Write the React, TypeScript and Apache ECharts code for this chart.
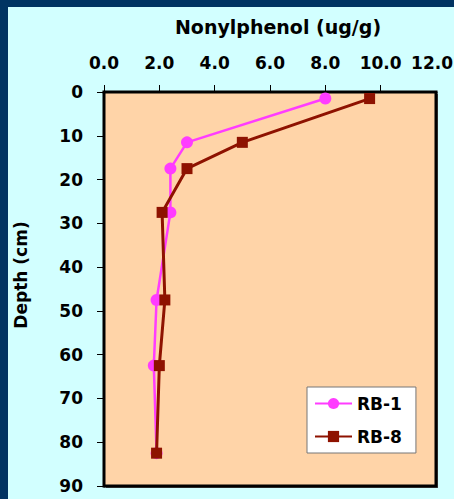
import React, { useEffect, useRef } from "react";
import * as echarts from "echarts";

const depths = [1.5, 11.5, 17.5, 27.5, 47.5, 62.5, 82.5];
const rb1 = [8.0, 3.0, 2.4, 2.4, 1.9, 1.8, 1.9];
const rb8 = [9.6, 5.0, 3.0, 2.1, 2.2, 2.0, 1.9];
const seriesNames = ["RB-1", "RB-8"];
const xTitle = "Nonylphenol (ug/g)";
const yTitle = "Depth (cm)";
const xMax = 12;

const FONT = "'DejaVu Sans', Arial, sans-serif";

export default function App() {
  const ref = useRef<HTMLDivElement>(null);
  useEffect(() => {
    if (!ref.current) return;
    const chart = echarts.init(ref.current, null, { renderer: "svg" });
    const toPairs = (xs: number[]) => xs.map((v, i) => [v, depths[i]]);
    chart.setOption({
      animation: false,
      backgroundColor: "#D2FFFF",
      textStyle: { fontFamily: FONT },
      grid: {
        left: 104,
        right: 18,
        top: 92,
        bottom: 13,
        containLabel: false,
        outerBoundsMode: "none",
        show: true,
        backgroundColor: "#FFD4A8",
        borderColor: "#000",
        borderWidth: 3,
        z: 1,
      },
      graphic: [
        { type: "rect", shape: { x: 0, y: 0, width: 454, height: 7 }, style: { fill: "#003462" }, z: 100 },
        { type: "rect", shape: { x: 0, y: 0, width: 8, height: 499 }, style: { fill: "#003462" }, z: 100 },
        { type: "rect", shape: { x: 106, y: 94, width: 332, height: 394 }, style: { fill: "#555" }, z: 0 },
        {
          type: "text",
          x: 278,
          y: 27,
          style: {
            text: xTitle,
            fontFamily: FONT,
            fontWeight: "bold",
            fontSize: 19,
            fill: "#000",
            align: "center",
            verticalAlign: "middle",
          },
        },
        {
          type: "text",
          x: 453,
          y: 71,
          style: {
            text: xMax.toFixed(1),
            fontFamily: FONT,
            fontWeight: "bold",
            fontSize: 17,
            fill: "#000",
            align: "right",
            verticalAlign: "bottom",
          },
        },
        {
          type: "text",
          x: 21,
          y: 275,
          rotation: Math.PI / 2,
          style: {
            text: yTitle,
            fontFamily: FONT,
            fontWeight: "bold",
            fontSize: 17,
            fill: "#000",
            align: "center",
            verticalAlign: "middle",
          },
        },
      ],
      xAxis: {
        type: "value",
        position: "top",
        min: 0,
        max: xMax,
        interval: 2,
        axisLine: { show: true, lineStyle: { color: "#000", width: 3 } },
        axisTick: { show: true, length: 7, lineStyle: { color: "#000", width: 1 } },
        splitLine: { show: false },
        axisLabel: {
          margin: 21,
          color: "#000",
          fontWeight: "bold",
          fontSize: 17,
          fontFamily: FONT,
          showMaxLabel: false,
          formatter: (v: number) => (v >= xMax ? "" : v.toFixed(1)),
        },
      },
      yAxis: {
        type: "value",
        inverse: true,
        min: 0,
        max: 90,
        interval: 10,
        axisLine: { show: true, lineStyle: { color: "#000", width: 3 } },
        axisTick: { show: true, length: 7, lineStyle: { color: "#000", width: 1 } },
        splitLine: { show: false },
        axisLabel: {
          margin: 21,
          color: "#000",
          fontWeight: "bold",
          fontSize: 17,
          fontFamily: FONT,
        },
      },
      legend: {
        orient: "vertical",
        left: 307,
        top: 387,
        backgroundColor: "#fff",
        borderColor: "#777",
        borderWidth: 1,
        borderRadius: 0,
        padding: [8, 14, 8, 7],
        itemWidth: 37,
        itemHeight: 14,
        itemGap: 16,
        textStyle: { fontSize: 17, fontWeight: "bold", color: "#000", fontFamily: FONT },
        data: seriesNames,
      },
      series: [
        {
          name: seriesNames[0],
          type: "line",
          data: toPairs(rb1),
          symbol: "circle",
          symbolSize: 12,
          color: "#FF3CFF",
          lineStyle: { width: 2.5, color: "#FF3CFF" },
          itemStyle: { color: "#FF3CFF" },
          z: 3,
        },
        {
          name: seriesNames[1],
          type: "line",
          data: toPairs(rb8),
          symbol: "rect",
          symbolSize: 11,
          color: "#8E1200",
          lineStyle: { width: 3, color: "#8E1200" },
          itemStyle: { color: "#8E1200" },
          z: 4,
        },
      ],
    });
    return () => chart.dispose();
  }, []);
  return (
    <div
      ref={ref}
      style={{ position: "absolute", left: 0, top: 0, width: 454, height: 499 }}
    />
  );
}
